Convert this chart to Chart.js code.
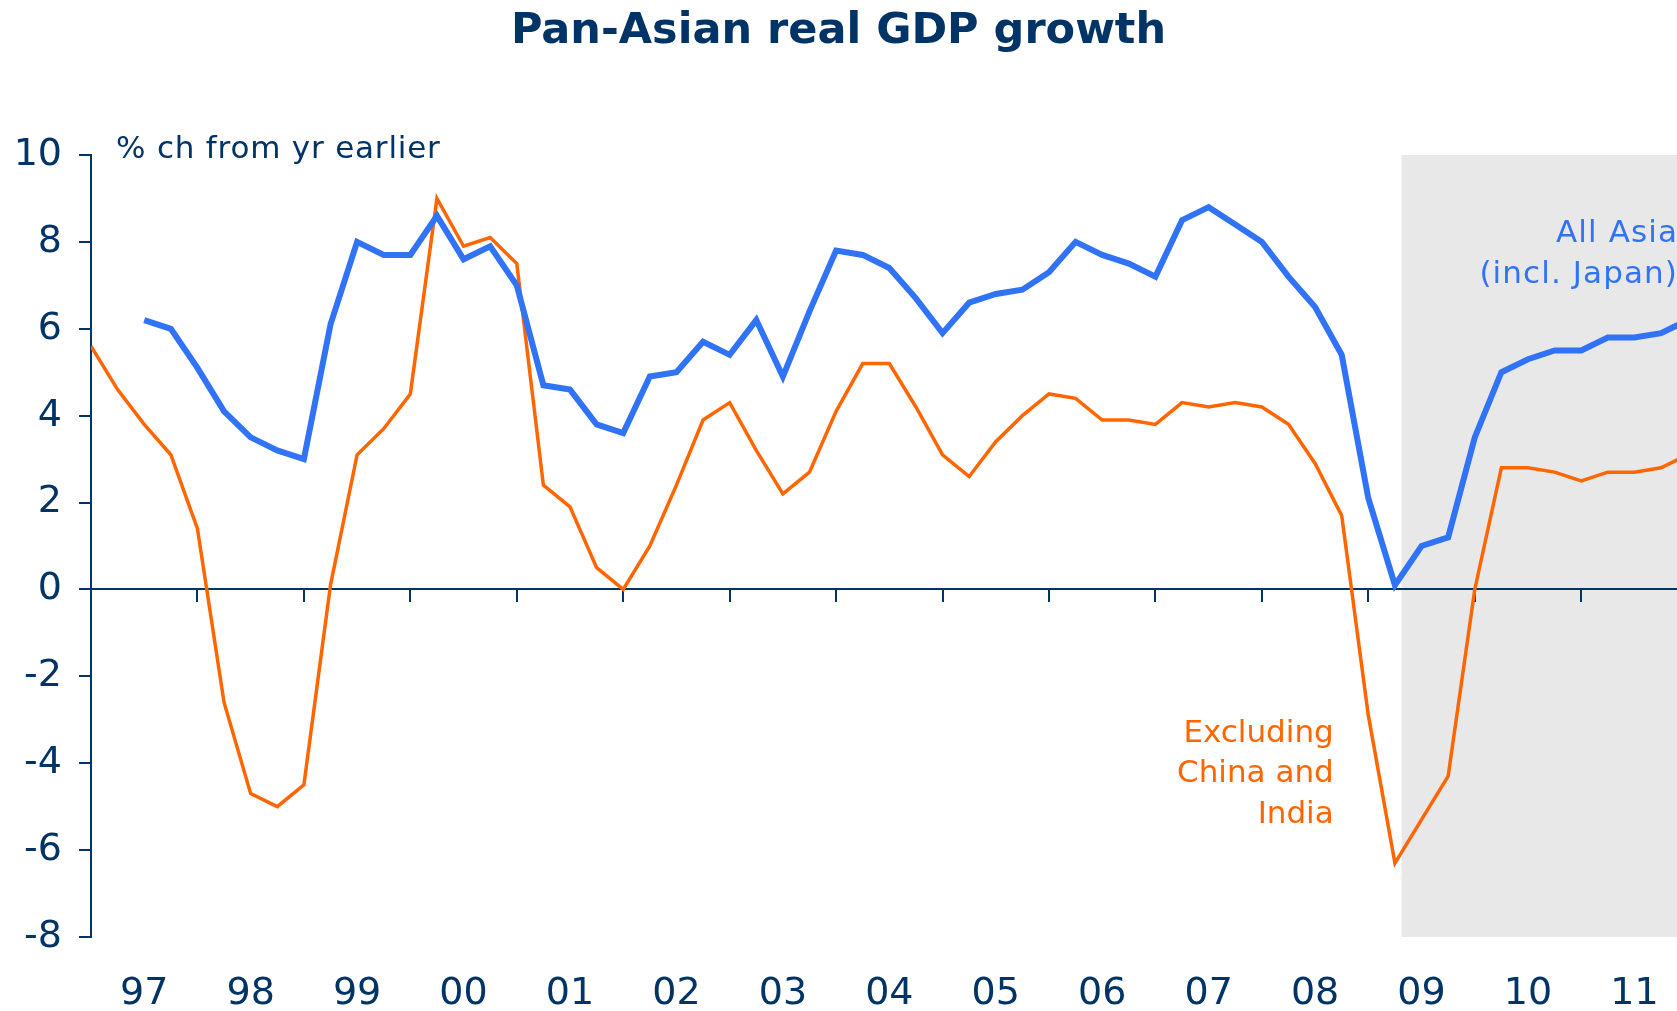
<!DOCTYPE html>
<html>
<head>
<meta charset="utf-8">
<title>Pan-Asian real GDP growth</title>
<script src="https://cdn.jsdelivr.net/npm/chart.js@4.4.1/dist/chart.umd.min.js"></script>
<style>
  html, body { margin: 0; padding: 0; background: #fff; }
  #wrap { width: 1677px; height: 1011px; position: relative; }
</style>
</head>
<body>
<div id="wrap"><canvas id="chart"></canvas></div>
<script>
// year labels on the x axis (each year = 4 quarters, first quarter is Q1 1997)
const years = ["97", "98", "99", "00", "01", "02", "03", "04", "05", "06", "07", "08", "09", "10", "11"];

// % ch from yr earlier, quarterly, 1997 Q1 .. 2012 Q1
const allAsia = [
  null, null, 6.2, 6.0, 5.1, 4.1, 3.5, 3.2, 3.0, 6.1, 8.0, 7.7, 7.7,
  8.6, 7.6, 7.9, 7.0, 4.7, 4.6, 3.8, 3.6, 4.9, 5.0, 5.7, 5.4,
  6.2, 4.9, 6.4, 7.8, 7.7, 7.4, 6.7, 5.9, 6.6, 6.8, 6.9, 7.3,
  8.0, 7.7, 7.5, 7.2, 8.5, 8.8, 8.4, 8.0, 7.2, 6.5, 5.4, 2.1,
  0.1, 1.0, 1.2, 3.5, 5.0, 5.3, 5.5, 5.5, 5.8, 5.8, 5.9, 6.2
];
const exChinaIndia = [
  5.6, 4.6, 3.8, 3.1, 1.4, -2.6, -4.7, -5.0, -4.5, 0.1, 3.1, 3.7, 4.5,
  9.0, 7.9, 8.1, 7.5, 2.4, 1.9, 0.5, 0.0, 1.0, 2.4, 3.9, 4.3,
  3.2, 2.2, 2.7, 4.1, 5.2, 5.2, 4.2, 3.1, 2.6, 3.4, 4.0, 4.5,
  4.4, 3.9, 3.9, 3.8, 4.3, 4.2, 4.3, 4.2, 3.8, 2.9, 1.7, -2.9,
  -6.3, -5.3, -4.3, 0.0, 2.8, 2.8, 2.7, 2.5, 2.7, 2.7, 2.8, 3.1
];

const yTicks = [-8, -6, -4, -2, 0, 2, 4, 6, 8, 10];
const forecastStart = 49.25; // shaded forecast period starts here (quarter index)
const xMax = 59.6;

const NAVY = "#003366";
const BLUE = "#3173f6";
const ORANGE = "#ff6600";
const FONT = "'DejaVu Sans', Verdana, sans-serif";

const toPoints = arr => arr.map((v, i) => ({ x: i, y: v }));

// grey box for the forecast period, under axes and lines
const shadePlugin = {
  id: "shade",
  beforeDraw(chart) {
    const { ctx, scales: { x, y } } = chart;
    const left = x.getPixelForValue(forecastStart);
    const right = x.getPixelForValue(xMax);
    const top = y.getPixelForValue(10);
    const bottom = y.getPixelForValue(-8);
    ctx.save();
    ctx.fillStyle = "#e8e8e8";
    ctx.fillRect(left, top, right - left, bottom - top);
    ctx.restore();
  }
};

// series labels and unit text
const labelPlugin = {
  id: "labels",
  afterDraw(chart) {
    const { ctx, scales: { x, y } } = chart;
    ctx.save();
    ctx.font = "31px " + FONT;
    ctx.textBaseline = "alphabetic";

    ctx.fillStyle = NAVY;
    ctx.textAlign = "left";
    ctx.letterSpacing = "0.8px";
    ctx.fillText("% ch from yr earlier", x.getPixelForValue(0) + 25, 158);

    ctx.fillStyle = BLUE;
    ctx.textAlign = "right";
    ctx.letterSpacing = "1.1px";
    ctx.fillText("All Asia", x.right + 1, y.getPixelForValue(8.0));
    ctx.fillText("(incl. Japan)", x.right + 1, y.getPixelForValue(7.06));

    ctx.fillStyle = ORANGE;
    ctx.letterSpacing = "0px";
    const ex = x.getPixelForValue(46.7);
    ctx.fillText("Excluding", ex, y.getPixelForValue(-3.52));
    ctx.fillText("China and", ex, y.getPixelForValue(-4.44));
    ctx.fillText("India", ex, y.getPixelForValue(-5.38));
    ctx.restore();
  }
};

new Chart(document.getElementById("chart"), {
  type: "line",
  data: {
    datasets: [
      {
        label: "All Asia (incl. Japan)",
        data: toPoints(allAsia),
        borderColor: BLUE,
        borderWidth: 6,
        pointRadius: 0,
        tension: 0,
        spanGaps: false
      },
      {
        label: "Excluding China and India",
        data: toPoints(exChinaIndia),
        borderColor: ORANGE,
        borderWidth: 3.5,
        pointRadius: 0,
        tension: 0
      }
    ]
  },
  options: {
    responsive: true,
    maintainAspectRatio: false,
    animation: false,
    devicePixelRatio: 1,
    layout: { padding: 0 },
    plugins: {
      legend: { display: false },
      tooltip: { enabled: false },
      title: {
        display: true,
        text: "Pan-Asian real GDP growth",
        color: NAVY,
        font: { family: FONT, size: 43, weight: "bold" },
        padding: { top: 6, bottom: 97.4 }
      }
    },
    scales: {
      x: {
        type: "linear",
        position: "bottom",
        min: 0,
        max: xMax,
        border: { display: false },
        grid: { display: false, drawTicks: false },
        afterBuildTicks: s => { s.ticks = years.map((yr, i) => ({ value: i * 4 + 2 })); },
        afterFit: s => { s.height = 74; s.paddingLeft = 0; s.paddingRight = 0; },
        ticks: {
          autoSkip: false,
          maxRotation: 0,
          padding: 34,
          color: NAVY,
          font: { family: FONT, size: 38 },
          callback: v => years[(v - 2) / 4]
        }
      },
      x2: {
        type: "linear",
        position: { y: 0 },
        min: 0,
        max: xMax,
        border: { display: true, color: NAVY, width: 2 },
        grid: { drawOnChartArea: false, drawTicks: true, tickLength: 12, color: NAVY, lineWidth: 2 },
        afterBuildTicks: s => { s.ticks = years.slice(1).map((yr, i) => ({ value: (i + 1) * 4 })); },
        afterFit: s => { s.paddingLeft = 0; s.paddingRight = 0; },
        ticks: { display: false }
      },
      y: {
        min: -8,
        max: 10,
        afterBuildTicks: s => { s.ticks = yTicks.map(v => ({ value: v })); },
        afterFit: s => { s.width = 91; },
        border: { display: true, color: NAVY, width: 2 },
        grid: { drawOnChartArea: false, drawTicks: true, tickLength: 12, color: NAVY, lineWidth: 2 },
        ticks: {
          padding: 17,
          color: NAVY,
          font: { family: FONT, size: 38 }
        }
      }
    }
  },
  plugins: [shadePlugin, labelPlugin]
});
</script>
</body>
</html>
